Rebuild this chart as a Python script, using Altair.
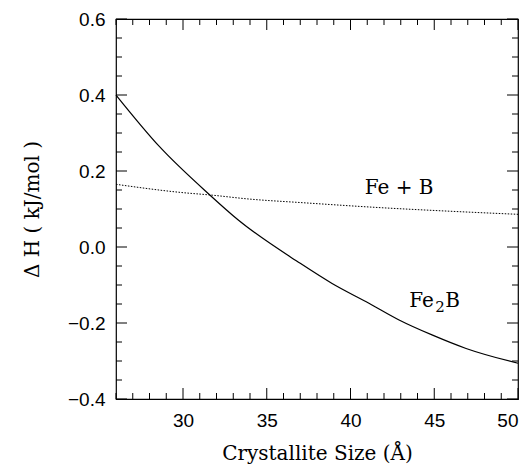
import altair as alt
import pandas as pd

# Fe2B curve (solid)
fe2b_x = [26, 28.6, 31.6, 33.3, 37.0, 38.9, 41.1, 42.9, 44.9, 46.9, 50]
fe2b_y = [0.40, 0.264, 0.137, 0.071, -0.043, -0.096, -0.148, -0.192, -0.232, -0.267, -0.306]

# Fe + B curve (dotted)
feb_x = [26, 30, 31.6, 34, 37.0, 42, 46, 50]
feb_y = [0.165, 0.143, 0.137, 0.126, 0.117, 0.103, 0.094, 0.086]

x_major = [30, 35, 40, 45, 50]
x_minor = [v for v in range(26, 51) if v not in x_major]
y_major = [-0.4, -0.2, 0.0, 0.2, 0.4, 0.6]
y_minor = [-0.35, -0.3, -0.25, -0.15, -0.1, -0.05, 0.05, 0.1, 0.15, 0.25, 0.3, 0.35, 0.45, 0.5, 0.55]

# curve labels: text, x, y, font size, pixel offsets (for the subscript)
labels_text = ["Fe + B", "Fe", "2", "B"]
labels_x = [42.9, 43.5, 43.5, 43.5]
labels_y = [0.155, -0.141, -0.141, -0.141]
labels_size = [20, 20, 15, 20]
labels_dx = [0, 0, 26, 36]
labels_dy = [0, 0, 6, 0]

W, H = 402, 380
MAJ, MIN = 11, 6
TFONT = "DejaVu Serif"

xs = alt.Scale(domain=[26, 50], nice=False, zero=False)
ys = alt.Scale(domain=[-0.4, 0.6], nice=False, zero=False)

xaxis = alt.Axis(values=x_major, ticks=False, domain=False, grid=False, labelPadding=12,
                 labelFont="Liberation Sans", labelFontSize=19, labelColor="black",
                 title="Crystallite Size (Å)", titleFont=TFONT, titleFontSize=20,
                 titleFontWeight="normal", titleColor="black", titlePadding=13)
yaxis = alt.Axis(values=y_major, ticks=False, domain=False, grid=False, labelPadding=11,
                 labelFont="Liberation Sans", labelFontSize=19, labelColor="black",
                 format=".1f", labelExpr="replace(datum.label, '-', '−')",
                 title="Δ H ( kJ/mol )", titleFont=TFONT, titleFontSize=20,
                 titleFontWeight="normal", titleColor="black", titlePadding=25)

df1 = pd.DataFrame({"x": fe2b_x, "y": fe2b_y})
df2 = pd.DataFrame({"x": feb_x, "y": feb_y})

base_line = alt.Chart(df1).mark_line(color="black", strokeWidth=1.2, interpolate="monotone").encode(
    x=alt.X("x:Q", scale=xs, axis=xaxis),
    y=alt.Y("y:Q", scale=ys, axis=yaxis),
)
dot_line = alt.Chart(df2).mark_line(color="black", strokeWidth=1, strokeDash=[1.5, 1.5],
                                    interpolate="monotone").encode(
    x=alt.X("x:Q", scale=xs),
    y=alt.Y("y:Q", scale=ys),
)

def xticks(vals, ln):
    d = pd.DataFrame({"x": vals})
    bot = alt.Chart(d).mark_rule(color="black", strokeWidth=1).encode(
        x=alt.X("x:Q", scale=xs), y=alt.value(H), y2=alt.value(H - ln))
    top = alt.Chart(d).mark_rule(color="black", strokeWidth=1).encode(
        x=alt.X("x:Q", scale=xs), y=alt.value(0), y2=alt.value(ln))
    return bot + top

def yticks(vals, ln):
    d = pd.DataFrame({"y": vals})
    left = alt.Chart(d).mark_rule(color="black", strokeWidth=1).encode(
        y=alt.Y("y:Q", scale=ys), x=alt.value(0), x2=alt.value(ln))
    right = alt.Chart(d).mark_rule(color="black", strokeWidth=1).encode(
        y=alt.Y("y:Q", scale=ys), x=alt.value(W), x2=alt.value(W - ln))
    return left + right

texts = []
for t, x, y, s, dx, dy in zip(labels_text, labels_x, labels_y, labels_size, labels_dx, labels_dy):
    d = pd.DataFrame({"t": [t], "x": [x], "y": [y]})
    align = "center" if t == "Fe + B" else "left"
    texts.append(alt.Chart(d).mark_text(font=TFONT, fontSize=s, color="black", align=align,
                                        baseline="middle", dx=dx, dy=dy).encode(
        x=alt.X("x:Q", scale=xs), y=alt.Y("y:Q", scale=ys), text="t:N"))

chart = alt.layer(
    base_line, dot_line,
    xticks(x_major, MAJ), xticks(x_minor, MIN),
    yticks(y_major, MAJ), yticks(y_minor, MIN),
    *texts,
).properties(
    width=W, height=H,
    autosize=alt.AutoSizeParams(type="none"),
    padding={"left": 108, "top": 11, "right": 4, "bottom": 69},
).configure_view(stroke="black", strokeWidth=1.2)

chart.save("out.html", embed_options={"renderer": "svg", "actions": False})
